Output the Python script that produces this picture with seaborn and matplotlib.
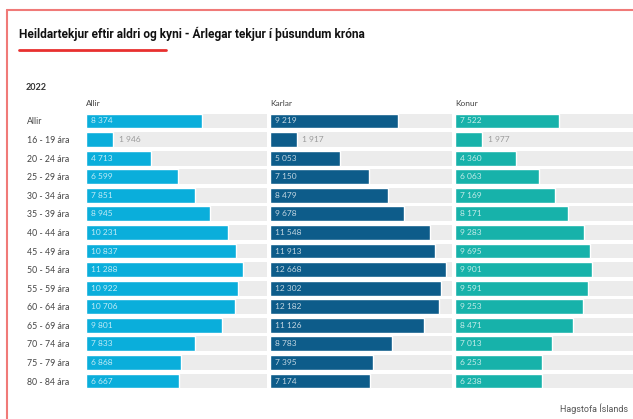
import numpy as np
import pandas as pd
import matplotlib
matplotlib.use("Agg")
import matplotlib.pyplot as plt
from matplotlib.lines import Line2D
import seaborn as sns

# -------------------- DATA --------------------
age_groups = ["Allir", "16 - 19 ára", "20 - 24 ára", "25 - 29 ára", "30 - 34 ára",
              "35 - 39 ára", "40 - 44 ára", "45 - 49 ára", "50 - 54 ára", "55 - 59 ára",
              "60 - 64 ára", "65 - 69 ára", "70 - 74 ára", "75 - 79 ára", "80 - 84 ára"]
allir = [8374, 1946, 4713, 6599, 7851, 8945, 10231, 10837, 11288, 10922,
         10706, 9801, 7833, 6868, 6667]
karlar = [9219, 1917, 5053, 7150, 8479, 9678, 11548, 11913, 12668, 12302,
          12182, 11126, 8783, 7395, 7174]
konur = [7522, 1977, 4360, 6063, 7169, 8171, 9283, 9695, 9901, 9591,
         9253, 8471, 7013, 6253, 6238]
panel_names = ["Allir", "Karlar", "Konur"]

# -------------------- STYLE --------------------
sns.set_style("white")
plt.rcParams['font.family'] = ['Lato', 'DejaVu Sans']

colors = ["#0aaedb", "#0d5c8a", "#17b2aa"]
grey_row = "#ececec"
red = "#e8302f"

W, H = 633, 419
fig = plt.figure(figsize=(W / 100, H / 100), dpi=100)


def fx(px):
    return px / W


def fy(py):
    return 1 - py / H


# -------------------- FRAME & TITLE --------------------
fig.add_artist(Line2D([fx(7), fx(7)], [fy(10), 0], color="#f07a78", lw=1.5))
fig.add_artist(Line2D([fx(7), 1], [fy(10), fy(10)], color="#f07a78", lw=1.5))
fig.add_artist(Line2D([fx(19), fx(166)], [fy(50), fy(50)], color=red, lw=2))

fig.text(fx(19), fy(34), "Heildartekjur eftir aldri og kyni - Árlegar tekjur í þúsundum króna",
         fontsize=8.6, fontweight="bold", va="center", ha="left", color="#111111",
         family=["Roboto", "DejaVu Sans"])
fig.text(fx(26), fy(88), "2022", fontsize=6.5, fontweight="bold", va="center",
         ha="left", color="#333333")
fig.text(fx(628), fy(409), "Hagstofa Íslands", fontsize=6.5, va="center", ha="right",
         color="#555555", family=["Roboto", "DejaVu Sans"])

# -------------------- PANELS --------------------
row_top, row_bot = 121 - 9.3, 381 + 9.3
panel_x = [(86, 267), (270, 452), (455, 633)]
px_per_unit = 0.01388
series = [allir, karlar, konur]

for i, (name, vals, col, (x0, x1)) in enumerate(zip(panel_names, series, colors, panel_x)):
    ax = fig.add_axes([fx(x0), fy(row_bot), fx(x1 - x0), (row_bot - row_top) / H])
    df = pd.DataFrame({"group": age_groups, "value": vals})

    # grey row background
    for k in range(len(age_groups)):
        ax.axhspan(k - 0.4, k + 0.4, color=grey_row, zorder=0, lw=0)

    sns.barplot(data=df, x="value", y="group", orient="h", color=col,
                saturation=1, width=0.8, ax=ax, zorder=2)
    ax.set_xlim(0, (x1 - x0) / px_per_unit)
    ax.set_ylim(len(age_groups) - 0.5, -0.5)
    sns.despine(ax=ax, left=True, bottom=True)
    ax.set_xlabel("")
    ax.set_ylabel("")
    ax.set_xticks([])
    ax.tick_params(axis="y", length=0)

    if i == 0:
        ax.tick_params(axis="y", pad=(x0 - 27) * 0.72, labelsize=6.3, labelcolor="#444444")
        for lab in ax.get_yticklabels():
            lab.set_horizontalalignment("left")
    else:
        ax.set_yticklabels([])

    ax.text(0, -0.75, name, fontsize=6, color="#444444", va="bottom", ha="left")

    # value labels
    for k, v in enumerate(vals):
        txt = f"{v:,}".replace(",", " ")
        if v < 3000:
            ax.text(v + 400, k, txt, fontsize=6, color="#9a9a9a", va="center", ha="left")
        else:
            ax.text(350, k, txt, fontsize=6, color="#ffffff", alpha=0.75,
                    va="center", ha="left")

fig.savefig("out.png", dpi=100)
